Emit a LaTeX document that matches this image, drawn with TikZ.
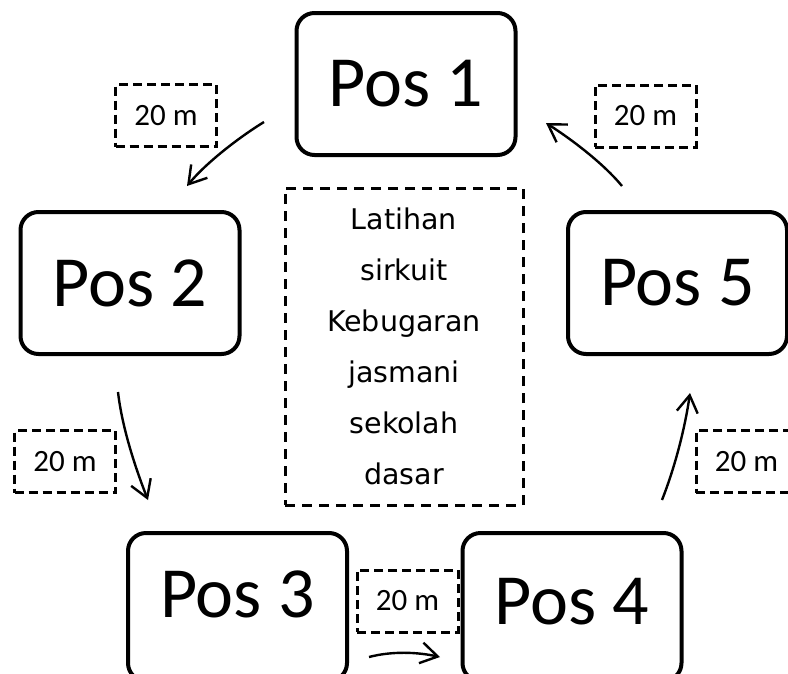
\documentclass[tikz,border=0pt]{standalone}
\usepackage{fontspec}
\setmainfont{Carlito}
\newfontfamily\comicfont{DejaVu Sans}
\usetikzlibrary{arrows.meta}
\begin{document}
\begin{tikzpicture}[x=1pt,y=-1pt,
  posbox/.style={draw, line width=4pt, rounded corners=18pt, minimum width=219pt, minimum height=142pt, inner sep=0pt, font=\fontsize{72}{80}\selectfont},
  distbox/.style={draw, line width=3pt, dash pattern=on 9pt off 5pt, minimum width=101pt, minimum height=62pt, inner sep=0pt, font=\fontsize{31}{34}\selectfont},
  infobox/.style={draw, line width=3pt, dash pattern=on 10pt off 7pt, minimum width=238pt, minimum height=317pt, inner sep=0pt, align=center, font=\comicfont\fontsize{28.5}{51}\selectfont},
  arr/.style={line width=2.4pt, -{Straight Barb[length=17pt,width=21pt]}}
]
\useasboundingbox (0,0) rectangle (788,673);
\clip (0,0) rectangle (788,673);

\node[posbox] (p1) at (406,84) {Pos 1};
\node[posbox] (p2) at (130,283) {Pos 2};
\node[posbox] (p5) at (677.5,283) {Pos 5};
\node[posbox, minimum height=148pt, text depth=26pt] (p3) at (237.5,607) {Pos 3};
\node[posbox, minimum height=148pt, text depth=12pt] (p4) at (572,607) {Pos 4};

\node[infobox] (info) at (404,346.5) {Latihan\\sirkuit\\Kebugaran\\jasmani\\sekolah\\dasar};

\node[distbox] (d12) at (166,115.5) {20 m};
\node[distbox] (d51) at (645.5,116) {20 m};
\node[distbox] (d23) at (65,461.5) {20 m};
\node[distbox] (d45) at (746.5,461.5) {20 m};
\node[distbox] (d34) at (407.5,601) {20 m};

\coordinate (a12s) at (264,122); \coordinate (a12e) at (187,186);
\coordinate (a23s) at (118,392); \coordinate (a23e) at (148,500);
\coordinate (a34s) at (369,657); \coordinate (a34e) at (440,657);
\coordinate (a45s) at (662,500); \coordinate (a45e) at (690,393);
\coordinate (a51s) at (622,186); \coordinate (a51e) at (546,123);

\draw[arr] (a12s) .. controls (238,138) and (206,163) .. (a12e);
\draw[arr] (a23s) .. controls (122,427) and (135,467) .. (a23e);
\draw[arr] (a34s) .. controls (392,651) and (417,652) .. (a34e);
\draw[arr] (a45s) .. controls (675,467) and (685,428) .. (a45e);
\draw[arr] (a51s) .. controls (603,163) and (571,139) .. (a51e);
\end{tikzpicture}
\end{document}
